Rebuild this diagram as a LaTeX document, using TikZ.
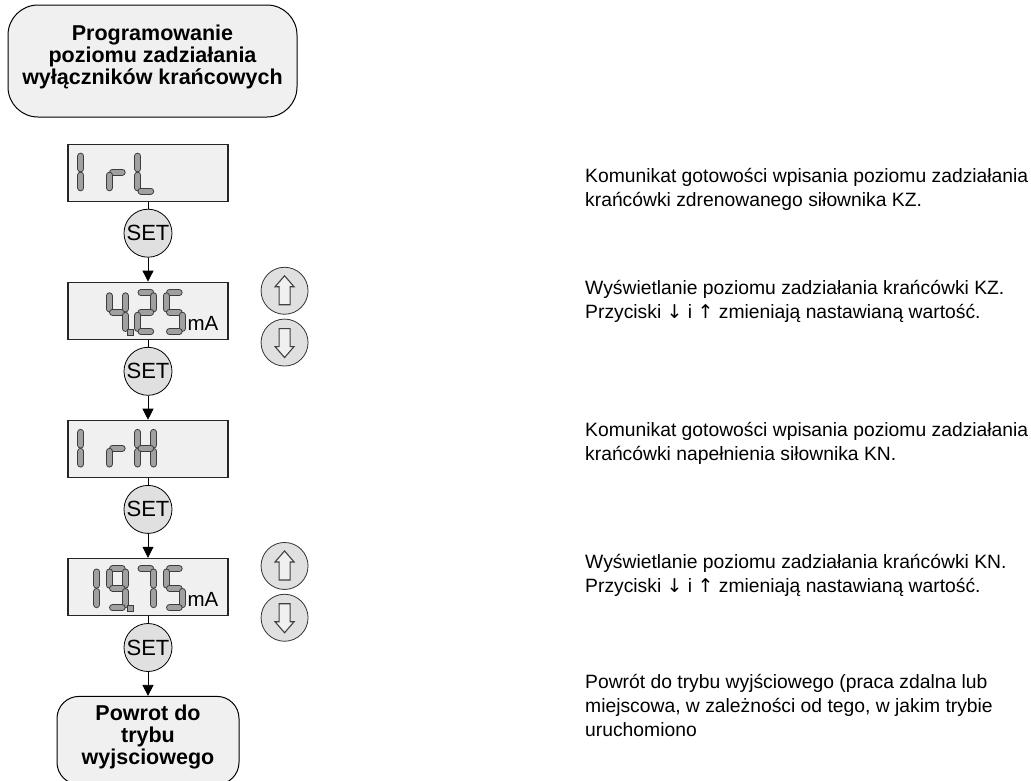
\documentclass[tikz,border=0pt]{standalone}
\usepackage{fontspec}
\setmainfont{Liberation Sans}
\newfontfamily\arrowfont{DejaVu Sans}
\usetikzlibrary{positioning, arrows.meta}
\definecolor{boxfill}{HTML}{F0F0F0}
\definecolor{btnfill}{HTML}{E0E0E0}
\definecolor{segfill}{HTML}{A0A0A0}
\definecolor{segline}{HTML}{3C3C3C}
\tikzset{
    startstop/.style={rectangle, rounded corners=24pt, align=center, draw=black, line width=1pt, fill=boxfill, text depth=12pt, font=\bfseries\fontsize{21.5}{22}\selectfont},
    display/.style={rectangle, minimum width=160pt, minimum height=57pt, inner sep=0pt, draw=black!85, line width=1.3pt, fill=boxfill},
    setbtn/.style={circle, minimum size=48pt, inner sep=0pt, draw=black, line width=0.8pt, fill=btnfill, font=\fontsize{22}{22}\selectfont},
    keybtn/.style={circle, minimum size=47pt, inner sep=0pt, draw=black!80, line width=0.8pt, fill=btnfill},
    keyicon/.style={draw=black!75, line width=1.1pt, fill=boxfill},
    segment/.style={draw=segline, line width=1pt, double=segfill, double distance=5pt, line cap=round, shorten <=3.2pt, shorten >=3.2pt},
    desc/.style={anchor=west, align=left, inner sep=0pt, font=\fontsize{19.3}{24}\selectfont},
    link/.style={line width=0.8pt},
    arrow/.style={line width=0.8pt, -{Triangle[width=11pt,length=11pt]}}
}
% one seven-segment character: anchor, x offset, y offset, height, segments
\newcommand{\segdigit}[5]{%
  \begin{scope}[shift={(#1)}, xshift=#2pt, yshift=-#3pt]
    \coordinate (tl) at (0,0);
    \coordinate (tr) at (16pt,0);
    \coordinate (ml) at (0,{-#4pt/2});
    \coordinate (mr) at (16pt,{-#4pt/2});
    \coordinate (bl) at (0,-#4pt);
    \coordinate (br) at (16pt,-#4pt);
    \foreach \p/\q in {#5} \draw[segment] (\p) -- (\q);
  \end{scope}}
\newcommand{\segpoint}[1]{%
  \draw[segline, line width=0.8pt, fill=segfill] ([shift={(60pt,-48pt)}]#1) rectangle ++(6pt,-5.5pt);}
\newcommand{\dn}{{\arrowfont\fontsize{19}{19}\selectfont ↓}}
\newcommand{\up}{{\arrowfont\fontsize{19}{19}\selectfont ↑}}

\begin{document}
\begin{tikzpicture}
    \useasboundingbox (0,0) rectangle (1031pt,-780pt);

    \node (title) [startstop, rounded corners=30pt, minimum width=289pt, minimum height=112pt] at (152.5pt,-61pt) {Programowanie\\poziomu zadziałania\\wyłączników krańcowych};
    \node (d1) [display, below=26pt of title, xshift=-4.5pt] {};
    \node (set1) [setbtn, below=7pt of d1] {SET};
    \node (d2) [display, below=24pt of set1] {};
    \node (set2) [setbtn, below=7pt of d2] {SET};
    \node (d3) [display, below=24pt of set2] {};
    \node (set3) [setbtn, below=7pt of d3] {SET};
    \node (d4) [display, below=24pt of set3] {};
    \node (set4) [setbtn, below=7pt of d4] {SET};
    \node (ret) [startstop, rounded corners=22pt, minimum width=182pt, minimum height=88pt, below=24pt of set4] {Powrot do\\trybu\\wyjsciowego};

    \node (up1) [keybtn, right=32pt of d2, yshift=20pt] {};
    \node (dn1) [keybtn, below=4pt of up1] {};
    \node (up2) [keybtn, right=32pt of d4, yshift=21pt] {};
    \node (dn2) [keybtn, below=4pt of up2] {};

    \draw [link] (d1) -- (set1);
    \draw [arrow] (set1) -- (d2);
    \draw [link] (d2) -- (set2);
    \draw [arrow] (set2) -- (d3);
    \draw [link] (d3) -- (set3);
    \draw [arrow] (set3) -- (d4);
    \draw [link] (d4) -- (set4);
    \draw [arrow] (set4) -- (ret);

    % key symbols
    \foreach \k in {up1, up2}
        \draw [keyicon] ([shift={(0,15pt)}]\k.center) -- ++(9.5pt,-11pt) -- ++(-4pt,0) -- ++(0,-18pt) -- ++(-11pt,0) -- ++(0,18pt) -- ++(-4pt,0) -- cycle;
    \foreach \k in {dn1, dn2}
        \draw [keyicon] ([shift={(0,-15pt)}]\k.center) -- ++(9.5pt,11pt) -- ++(-4pt,0) -- ++(0,18pt) -- ++(-11pt,0) -- ++(0,-18pt) -- ++(-4pt,0) -- cycle;

    % display contents
    \segdigit{d1.north west}{13.5}{9.5}{38}{tl/ml, ml/bl}
    \segdigit{d1.north west}{42}{9.5}{38}{ml/mr, ml/bl}
    \segdigit{d1.north west}{70.5}{9.5}{38}{tl/ml, ml/bl, bl/br}

    \segdigit{d2.north west}{42}{11}{39}{tl/ml, ml/mr, tr/mr, mr/br}
    \segdigit{d2.north west}{70.5}{11}{39}{tl/tr, tr/mr, ml/mr, ml/bl, bl/br}
    \segdigit{d2.north west}{99}{11}{39}{tl/tr, tl/ml, ml/mr, mr/br, bl/br}
    \segpoint{d2.north west}
    \node (ma1) [anchor=base west, inner sep=0pt, font=\fontsize{20.5}{20.5}\selectfont] at ([shift={(120pt,-48.5pt)}]d2.north west) {mA};

    \segdigit{d3.north west}{13.5}{9.5}{38}{tl/ml, ml/bl}
    \segdigit{d3.north west}{42}{9.5}{38}{ml/mr, ml/bl}
    \segdigit{d3.north west}{70.5}{9.5}{38}{tl/ml, ml/bl, tr/mr, mr/br, ml/mr}

    \segdigit{d4.north west}{13.5}{11}{39}{tr/mr, mr/br}
    \segdigit{d4.north west}{42}{11}{39}{tl/tr, tl/ml, tr/mr, ml/mr, mr/br, bl/br}
    \segdigit{d4.north west}{70.5}{11}{39}{tl/tr, tr/mr, mr/br}
    \segdigit{d4.north west}{99}{11}{39}{tl/tr, tl/ml, ml/mr, mr/br, bl/br}
    \segpoint{d4.north west}
    \node (ma2) [anchor=base west, inner sep=0pt, font=\fontsize{20.5}{20.5}\selectfont] at ([shift={(120pt,-48.5pt)}]d4.north west) {mA};

    % descriptions
    \node (t1) [desc] at (585pt,-189pt) {Komunikat gotowości wpisania poziomu zadziałania\\krańcówki zdrenowanego siłownika KZ.};
    \node (t2) [desc] at (585pt,-301pt) {Wyświetlanie poziomu zadziałania krańcówki KZ.\\Przyciski \dn{} i \up{} zmieniają nastawianą wartość.};
    \node (t3) [desc] at (585pt,-443pt) {Komunikat gotowości wpisania poziomu zadziałania\\krańcówki napełnienia siłownika KN.};
    \node (t4) [desc] at (585pt,-575pt) {Wyświetlanie poziomu zadziałania krańcówki KN.\\Przyciski \dn{} i \up{} zmieniają nastawianą wartość.};
    \node (t5) [desc] at (585pt,-705pt) {Powrót do trybu wyjściowego (praca zdalna lub\\miejscowa, w zależności od tego, w jakim trybie\\uruchomiono};
\end{tikzpicture}
\end{document}
